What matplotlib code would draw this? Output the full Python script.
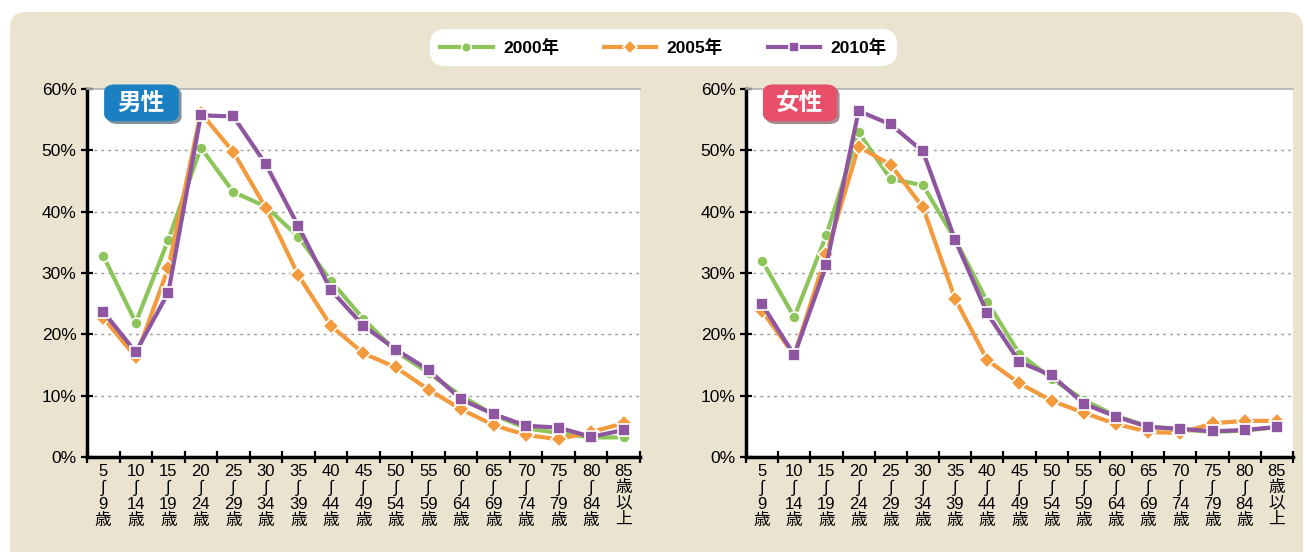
import numpy as np
import matplotlib.pyplot as plt
from matplotlib.patches import FancyBboxPatch
import matplotlib.patheffects as pe

plt.rcParams['font.family'] = ['Liberation Sans', 'DejaVu Sans', 'Noto Sans CJK JP']

# age groups
ages_from = ["5", "10", "15", "20", "25", "30", "35", "40", "45", "50", "55", "60", "65", "70", "75", "80"]
ages_to = ["9", "14", "19", "24", "29", "34", "39", "44", "49", "54", "59", "64", "69", "74", "79", "84"]
years = ["2000年", "2005年", "2010年"]

# 男性 (%)
male_2000 = [32.8, 21.9, 35.4, 50.4, 43.2, 40.8, 35.9, 28.7, 22.5, 17.2, 13.7, 10.0, 6.9, 4.7, 3.9, 3.2, 3.2]
male_2005 = [22.7, 16.3, 30.8, 56.1, 49.7, 40.6, 29.6, 21.4, 16.9, 14.6, 11.0, 7.8, 5.2, 3.6, 2.9, 4.1, 5.5]
male_2010 = [23.7, 17.1, 26.8, 55.7, 55.5, 47.7, 37.6, 27.2, 21.4, 17.5, 14.2, 9.4, 7.0, 5.1, 4.8, 3.3, 4.4]

# 女性 (%)
female_2000 = [32.0, 22.8, 36.2, 52.9, 45.3, 44.3, 35.5, 25.3, 16.8, 12.8, 9.3, 6.7, 5.0, 4.5, 4.1, 4.3, 4.9]
female_2005 = [23.8, 16.6, 33.1, 50.6, 47.6, 40.7, 25.8, 15.8, 12.0, 9.2, 7.2, 5.4, 4.1, 3.9, 5.5, 5.9, 5.9]
female_2010 = [24.9, 16.6, 31.3, 56.4, 54.2, 49.8, 35.4, 23.4, 15.5, 13.3, 8.7, 6.6, 4.9, 4.6, 4.2, 4.4, 4.9]

labels = [f"{a}\n∫\n{b}\n歳" for a, b in zip(ages_from, ages_to)] + ["85\n歳\n以\n上"]
x = np.arange(len(labels))

colors = ["#8DC55A", "#F39A3D", "#8E55A0"]
markers = ["o", "D", "s"]
msizes = [8, 8, 9]

fig = plt.figure(figsize=(13.06, 5.52), dpi=100)
fig.patch.set_facecolor("white")
# beige panel, in inches
bg = FancyBboxPatch((0.10, -0.3), 12.93, 5.70, boxstyle="round,pad=0,rounding_size=0.16",
                    transform=fig.dpi_scale_trans, facecolor="#EAE3D0", edgecolor="none", zorder=-10)
fig.patches.append(bg)


def draw(ax, series, badge, badge_color, bx1):
    for vals, c, m, ms, lab in zip(series, colors, markers, msizes, years):
        ax.plot(x, vals, color=c, lw=3, marker=m, ms=ms, mfc=c, mec="white", mew=1.2,
                label=lab, zorder=3)
    ax.set_facecolor("white")
    ax.set_xlim(-0.5, 16.5)
    ax.set_ylim(0, 60)
    ax.set_yticks(range(0, 61, 10))
    ax.set_yticklabels([f"{v}%" for v in range(0, 61, 10)], fontsize=12.5)
    for v in range(10, 60, 10):
        ax.axhline(v, color="#9A9A9A", lw=1, ls=(0, (2, 3)), zorder=1)
    ax.set_xticks(np.arange(-0.5, 17, 1))
    ax.set_xticklabels([])
    ax.set_xticks(x, minor=True)
    ax.set_xticklabels(labels, minor=True, fontsize=12, linespacing=1.08, va="top")
    ax.tick_params(axis="x", which="major", direction="inout", length=9, width=1.6)
    ax.tick_params(axis="x", which="minor", length=0, pad=5)
    ax.tick_params(axis="y", direction="inout", length=9, width=1.6, pad=3)
    for s in ["left", "bottom"]:
        ax.spines[s].set_linewidth(2.5)
    ax.spines["right"].set_visible(False)
    ax.spines["top"].set_color("#B0B0B0")
    ax.spines["top"].set_linewidth(1.2)

    box = FancyBboxPatch((bx1, 0.912), 0.135, 0.1, boxstyle="round,pad=0,rounding_size=0.02",
                         transform=ax.transAxes, facecolor=badge_color, edgecolor="none",
                         clip_on=False, zorder=5,
                         path_effects=[pe.SimplePatchShadow(offset=(2, -2), alpha=0.5), pe.Normal()])
    ax.add_patch(box)
    ax.text(bx1 + 0.0675, 0.962, badge, transform=ax.transAxes, ha="center", va="center",
            color="white", fontsize=17, fontweight="bold", family="Noto Sans CJK JP", zorder=6)


ax1 = fig.add_axes([0.0666, 0.172, 0.4234, 0.667])
ax2 = fig.add_axes([0.5712, 0.172, 0.4188, 0.667])
draw(ax1, [male_2000, male_2005, male_2010], "男性", "#1B7FC4", 0.031)
draw(ax2, [female_2000, female_2005, female_2010], "女性", "#E8506A", 0.031)

handles, labs = ax1.get_legend_handles_labels()
leg = fig.legend(handles, labs, loc="center", bbox_to_anchor=(0.508, 0.914), ncol=3,
                 frameon=True, fontsize=12.5, handlelength=3.0, columnspacing=2.6,
                 borderpad=0.4, handletextpad=0.6)
leg.get_frame().set_facecolor("white")
leg.get_frame().set_edgecolor("none")
leg.get_frame().set_alpha(1)
leg.get_frame().set_boxstyle("round", pad=0.2, rounding_size=0.9)
for t in leg.get_texts():
    t.set_fontweight("bold")
for h in leg.legend_handles:
    h.set_markersize(7)
    h.set_linewidth(3)

fig.savefig("out.png", dpi=100)
